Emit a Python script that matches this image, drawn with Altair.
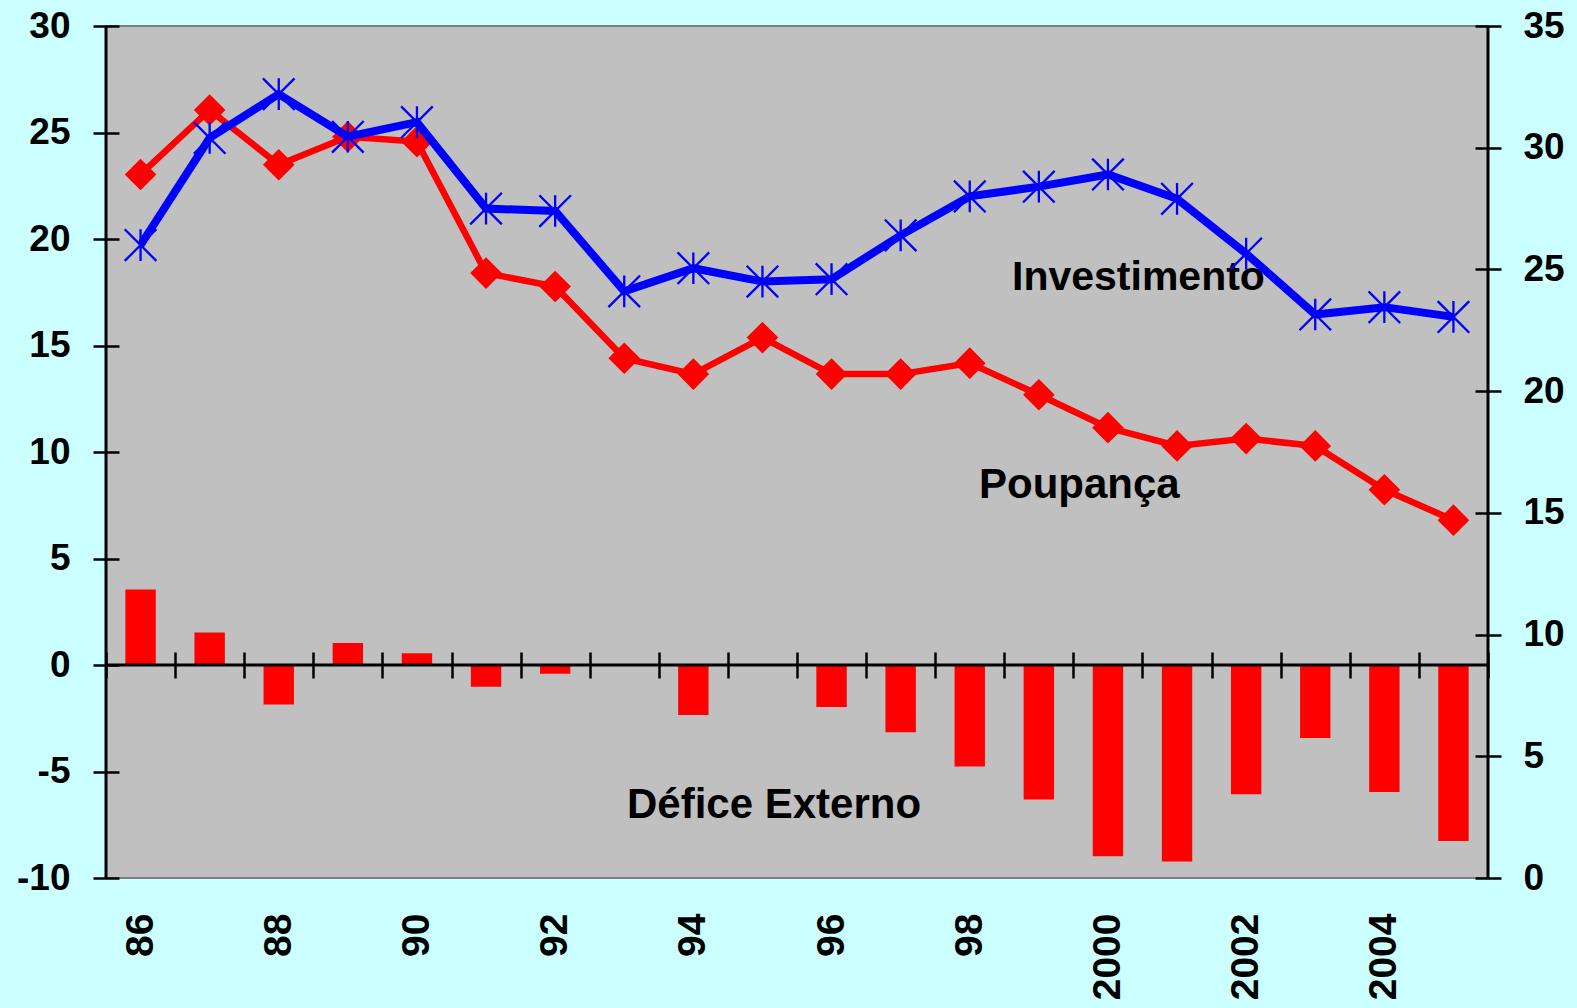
import altair as alt
import pandas as pd

# ---- data ----
years = ["86", "87", "88", "89", "90", "91", "92", "93", "94", "95",
         "96", "97", "98", "99", "2000", "2001", "2002", "2003", "2004", "2005"]
investimento = [26.0, 30.4, 32.2, 30.45, 31.05, 27.5, 27.4, 24.1, 25.05, 24.5,
                24.6, 26.4, 28.0, 28.4, 28.9, 27.9, 25.65, 23.15, 23.45, 23.05]
poupanca = [28.9, 31.55, 29.3, 30.45, 30.25, 24.85, 24.3, 21.35, 20.7, 22.2,
            20.7, 20.7, 21.15, 19.85, 18.5, 17.75, 18.05, 17.75, 15.95, 14.7]
defice = [3.55, 1.52, -1.85, 1.03, 0.55, -1.02, -0.41, 0.0, -2.35, 0.0,
          -1.97, -3.16, -4.76, -6.32, -8.98, -9.22, -6.07, -3.43, -5.96, -8.26]
left_ticks = [-10, -5, 0, 5, 10, 15, 20, 25, 30]
right_ticks = [0, 5, 10, 15, 20, 25, 30, 35]
year_labels = years[::2]

df = pd.DataFrame({"ano": years, "inv": investimento, "poup": poupanca, "def": defice})

W, H = 1382, 852
FONT = "Liberation Sans"
BG = "#CCFFFF"
xscale = alt.Scale(type="band", paddingInner=0, paddingOuter=0)

x_labels = alt.X(
    "ano:O", sort=years, scale=xscale,
    axis=alt.Axis(orient="bottom", values=year_labels, labelAngle=-90, labelFontSize=39,
                  labelFont=FONT, labelFontWeight="bold", labelColor="black",
                  labelPadding=35, ticks=False, tickSize=0, domain=False, grid=False,
                  title=None, labelOverlap=False),
)
x_ticks_axis = alt.Axis(orient="bottom", offset=-226, labels=False, domain=False, ticks=True,
                        tickSize=26, tickWidth=2.5, tickColor="black", tickBand="extent",
                        grid=False, title=None)
x_line = alt.X("ano:O", sort=years, scale=xscale, bandPosition=0.5, axis=x_ticks_axis)

left_axis = alt.Axis(orient="left", values=left_ticks, offset=-13, domain=False, tickSize=26,
                     tickWidth=2.5, tickColor="black", labelFontSize=37, labelFont=FONT,
                     labelFontWeight="bold", labelColor="black", labelPadding=23,
                     labelExpr="'' + datum.value", grid=False, title=None)
right_axis = alt.Axis(orient="right", values=right_ticks, offset=-13, domain=False, tickSize=26,
                      tickWidth=2.5, tickColor="black", labelFontSize=37, labelFont=FONT,
                      labelFontWeight="bold", labelColor="black", labelPadding=22,
                      labelExpr="'' + datum.value", grid=False, title=None)

yleft = alt.Scale(domain=[-10, 30], nice=False, zero=False)
yright = alt.Scale(domain=[0, 35], nice=False, zero=False)

base = alt.Chart(df)

bars = base.mark_bar(color="#FF0000", width=alt.RelativeBandSize(0.44)).encode(
    x=x_labels,
    y=alt.Y("def:Q", scale=yleft, axis=left_axis),
)

one = pd.DataFrame({"k": [0]})
zero_rule = alt.Chart(one).mark_rule(color="black", strokeWidth=3).encode(y=alt.datum(0))
left_frame = alt.Chart(one).mark_rule(color="black", strokeWidth=3).encode(
    x=alt.value(0), y=alt.value(0), y2=alt.value(H))
right_frame = alt.Chart(one).mark_rule(color="black", strokeWidth=3).encode(
    x=alt.value(W), y=alt.value(0), y2=alt.value(H))


def label(txt, px, py, fs):
    return alt.Chart(pd.DataFrame({"t": [txt]})).mark_text(
        align="left", baseline="alphabetic", fontSize=fs, font=FONT,
        fontWeight="bold", color="black").encode(text="t:N", x=alt.value(px), y=alt.value(py))


texts = [label("Investimento", 906, 264, 41), label("Poupança", 873, 472, 42),
         label("Défice Externo", 521, 792, 42)]

left_layer = alt.layer(bars, zero_rule, left_frame, right_frame, *texts)

star = "M-1,-1L1,1M-1,1L1,-1M0,-1L0,1"
poup_line = base.mark_line(color="#FF0000", strokeWidth=6.5).encode(
    x=x_line, y=alt.Y("poup:Q", scale=yright, axis=right_axis))
poup_pts = base.mark_point(shape="diamond", size=1000, filled=True, color="#FF0000",
                           opacity=1).encode(
    x=x_line, y=alt.Y("poup:Q", scale=yright, axis=right_axis))
inv_line = base.mark_line(color="#0000FF", strokeWidth=8).encode(
    x=x_line, y=alt.Y("inv:Q", scale=yright, axis=right_axis))
inv_pts = base.mark_point(shape=star, size=1000, filled=False, color="#0000FF",
                          strokeWidth=2.3, opacity=1).encode(
    x=x_line, y=alt.Y("inv:Q", scale=yright, axis=right_axis))

right_layer = alt.layer(poup_line, poup_pts, inv_line, inv_pts)

chart = alt.layer(left_layer, right_layer).resolve_scale(y="independent").resolve_axis(
    x="independent"
).properties(
    width=W, height=H, background=BG,
    padding={"left": 98, "top": 18, "right": 80, "bottom": 122},
    autosize=alt.AutoSizeParams(type="none"),
).configure_view(fill="#C0C0C0", stroke="#808080", strokeWidth=2)

# page template with the same cyan page background as the reference
TEMPLATE_SRC = """<!DOCTYPE html>
<html>
<head>
<meta charset="utf-8">
<style>body { background: """ + BG + """; }</style>
<script type="text/javascript" src="{{ base_url }}/vega@{{ vega_version }}"></script>
<script type="text/javascript" src="{{ base_url }}/vega-lite@{{ vegalite_version }}"></script>
<script type="text/javascript" src="{{ base_url }}/vega-embed@{{ vegaembed_version }}"></script>
</head>
<body>
<div id="{{ output_div }}"></div>
<script type="text/javascript">
  vegaEmbed("#{{ output_div }}", {{ spec }}, {{ embed_options }}).catch(console.error);
</script>
</body>
</html>
"""

try:
    import jinja2
    page_template = jinja2.Template(TEMPLATE_SRC)
    chart.save("out.html", embed_options={"renderer": "svg", "actions": False},
               template=page_template)
except Exception:
    chart.save("out.html", embed_options={"renderer": "svg", "actions": False})
